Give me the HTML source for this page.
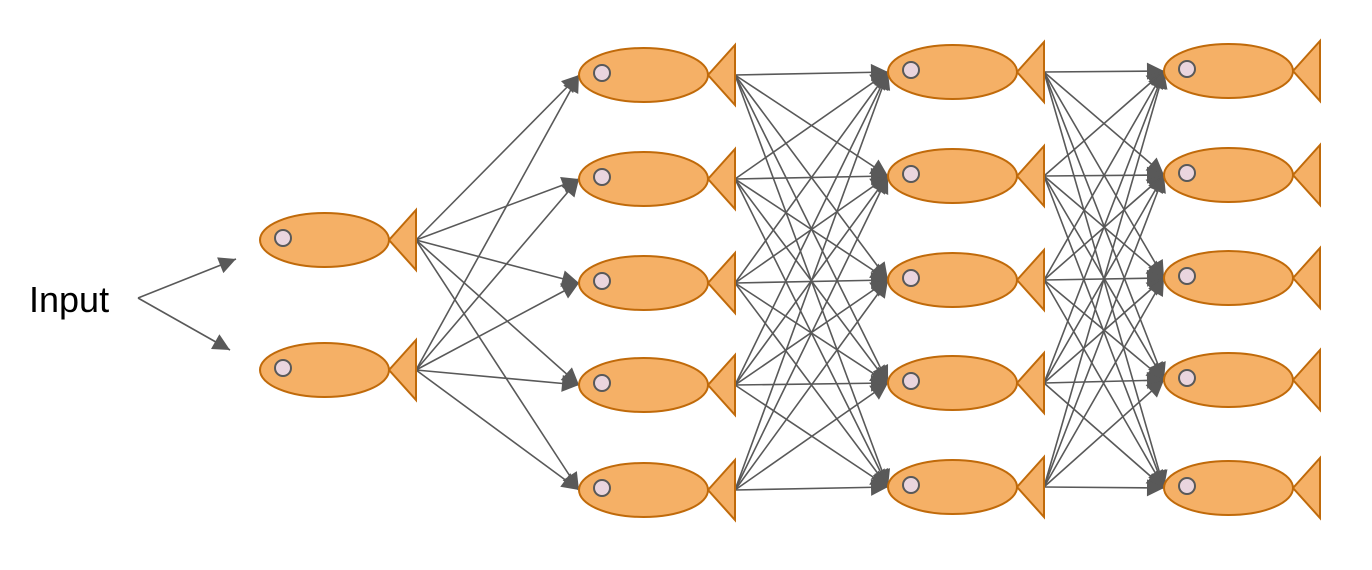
<!DOCTYPE html>
<html><head><meta charset="utf-8"><style>
html,body{margin:0;padding:0;background:#fff;width:1372px;height:570px;overflow:hidden}
</style></head><body>
<svg id="s" width="1372" height="570" xmlns="http://www.w3.org/2000/svg">
<defs><marker id="a" viewBox="0 0 10 10" refX="10" refY="5" markerWidth="19" markerHeight="17" markerUnits="userSpaceOnUse" orient="auto"><path d="M0,0 L10,5 L0,10 z" fill="#595959"/></marker></defs>
<g id="e" stroke="#595959" stroke-width="1.6" fill="none"></g>
<g id="f"></g>
<text x="29" y="312" font-family="Liberation Sans, sans-serif" font-size="36" fill="#000">Input</text>
</svg>
<script>
var L=[{x:260,ys:[240,370]},{x:579,ys:[75,179,283,385,490]},{x:888,ys:[72,176,280,383,487]},{x:1164,ys:[71,175,278,380,488]}];
var e=document.getElementById('e'),f=document.getElementById('f'),h='',g='';
function line(x1,y1,x2,y2){h+='<line x1="'+x1+'" y1="'+y1+'" x2="'+x2+'" y2="'+y2+'" marker-end="url(#a)"/>';}
line(138,298,236,259);line(138,298,230,350);
for(var i=0;i<3;i++){var A=L[i],B=L[i+1];A.ys.forEach(function(y1){B.ys.forEach(function(y2){line(A.x+156,y1,B.x,y2);});});}
L.forEach(function(l){l.ys.forEach(function(y){var x=l.x;
g+='<polygon points="'+(x+129)+','+y+' '+(x+156)+','+(y-30)+' '+(x+156)+','+(y+30)+'" fill="#f5b066" stroke="#c06a0a" stroke-width="2"/>';
g+='<ellipse cx="'+(x+64.5)+'" cy="'+y+'" rx="64.5" ry="27" fill="#f5b066" stroke="#c06a0a" stroke-width="2"/>';
g+='<circle cx="'+(x+23)+'" cy="'+(y-2)+'" r="8" fill="#ead5de" stroke="#595959" stroke-width="2"/>';});});
e.innerHTML=h;f.innerHTML=g;
</script>
</body></html>
